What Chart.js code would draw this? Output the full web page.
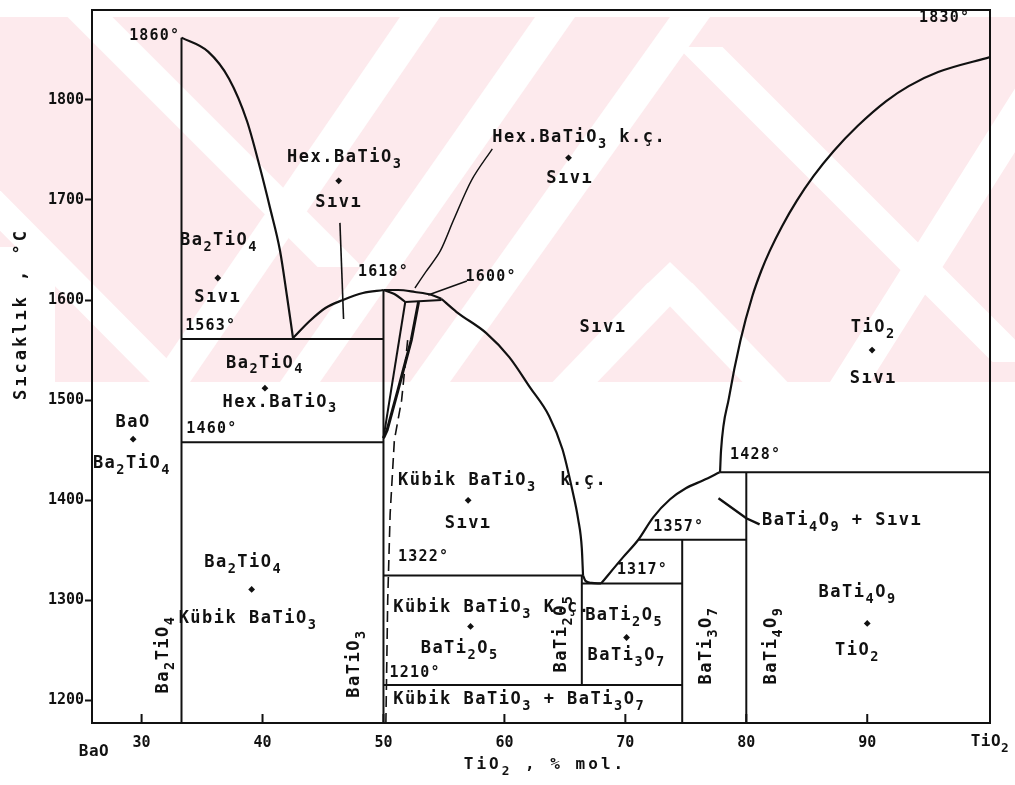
<!DOCTYPE html>
<html><head><meta charset="utf-8">
<script src="https://cdn.jsdelivr.net/npm/chart.js@4/dist/chart.umd.min.js"></script>
<style>html,body{margin:0;padding:0;background:#fff}#wrap{width:1015px;height:785px}</style>
</head><body><div id="wrap"><canvas id="c" width="1015" height="785"></canvas></div>
<script>
// ---------- DATA (mol % TiO2, temperature °C) ----------
const xTicks = [30, 40, 50, 60, 70, 80, 90];
const yTicks = [1200, 1300, 1400, 1500, 1600, 1700, 1800];

// liquidus curves
const liqBa2TiO4 = [[33.3,1862],[35.5,1848],[37.23,1821],[38.72,1778.5],[39.79,1732],[40.62,1692],[41.45,1649],[42.02,1604],[42.52,1562]];
const liqHexLeft = [[42.52,1562],[43.9,1579],[45.2,1592],[46.65,1600],[48.3,1607],[50,1610]];
const liqHexTop = [[50,1610],[51.2,1610],[52.6,1608],[54.0,1605],[54.8,1601]];
const liqHexLow = [[50,1610],[50.9,1606],[51.5,1601],[51.8,1598]];
const liqCubic = [[54.8,1601],[56.05,1588],[58.5,1567],[60.4,1543],[62.1,1513],[63.7,1484],[64.8,1451],[65.6,1411],[66.1,1381],[66.4,1352],[66.5,1325]];
const lensEut = [[66.5,1325],[66.7,1319.5],[67.2,1317.5],[68.0,1317]];
const liqBaTi4O9 = [[68.0,1317],[69.8,1343],[71.07,1360.6],[72.3,1383],[73.7,1401],[75.0,1412],[76.45,1420],[77.8,1428]];
const liqTiO2 = [[77.83,1428],[77.91,1449.6],[78.57,1502.5],[79.51,1559.3],[80.51,1604.2],[81.24,1629.2],[81.94,1649.1],[82.97,1674],[84.17,1699],[85.57,1723.9],[87.23,1748.8],[89.2,1773.7],[91.57,1798.6],[93.43,1813.6],[95.86,1827.6],[100.15,1842.5]];

// hexagonal / cubic BaTiO3 solid-solution boundaries
const hexSolidusA = [[51.8,1598],[50,1462]];
const hexSolidusB = [[52.9,1598],[52.3,1560],[51.2,1510],[50.3,1470],[50,1462]];
const cubicSolvus = [[52.0,1560],[51.5,1500],[50.9,1460],[50.55,1386],[50.35,1300],[50.2,1178]];

// compounds (vertical lines)
const lineBa2TiO4 = [[33.3,1177.6],[33.3,1862]];
const lineBaTiO3 = [[50,1177.6],[50,1610]];
const lineBaTi2O5 = [[66.4,1215.5],[66.4,1325]];
const lineBaTi3O7 = [[74.7,1177.6],[74.7,1360.6]];
const lineBaTi4O9 = [[80,1177.6],[80,1428]];

// invariant isotherms
const iso1563 = [[33.3,1561],[50,1561]];
const iso1460 = [[33.3,1458],[50,1458]];
const iso1600 = [[51.8,1598],[54.8,1600]];
const iso1322 = [[50,1325],[66.5,1325]];
const iso1317 = [[66.4,1317],[74.7,1317]];
const iso1357 = [[71.07,1360.6],[80,1360.6]];
const iso1210 = [[50,1215.5],[74.7,1215.5]];
const iso1428 = [[77.83,1428],[100.15,1428]];

// leader lines
const leadHexLiq = [[46.4,1677],[46.7,1581]];
const leadHexKc = [[59.0,1751],[57.3,1720],[55.8,1680],[54.7,1649],[53.5,1628],[52.6,1612]];
const lead1600 = [[56.9,1619],[53.7,1605]];
const leadBaTi4O9 = [[77.7,1402],[80,1382],[81.1,1376]];

// temperature labels
const tempLabels = [
  ['1860°',33.2,1864,'right'],['1830°',96.4,1882,'center'],['1618°',50.0,1628,'center'],
  ['1600°',58.9,1623,'center'],['1563°',33.6,1574,'left'],['1460°',33.7,1471,'left'],
  ['1322°',51.2,1343,'left'],['1210°',50.5,1227,'left'],['1317°',69.3,1330,'left'],
  ['1357°',72.3,1373,'left'],['1428°',78.65,1445,'left']
];
// phase-field labels
const phaseLabels = [
  ['Hex.BaTiO{3}',46.8,1742,'center'],['Sıvı',46.3,1697,'center'],
  ['Ba{2}TiO{4}',36.4,1659,'center'],['Sıvı',36.3,1602,'center'],
  ['Hex.BaTiO{3} k.ç.',59.0,1762,'left'],['Sıvı',65.4,1721,'center'],
  ['Sıvı',68.15,1572,'center'],
  ['TiO{2}',90.5,1572,'center'],['Sıvı',90.5,1522,'center'],
  ['Ba{2}TiO{4}',40.2,1537,'center'],['Hex.BaTiO{3}',41.45,1498,'center'],
  ['BaO',29.3,1478,'center'],['Ba{2}TiO{4}',29.2,1437,'center'],
  ['Kübik BaTiO{3}  k.ç.',51.2,1420,'left'],['Sıvı',57.0,1377,'center'],
  ['BaTi{4}O{9} + Sıvı',81.3,1380,'left'],
  ['Ba{2}TiO{4}',38.4,1338,'center'],['Kübik BaTiO{3}',38.8,1282,'center'],
  ['Kübik BaTiO{3} K.ç.',50.8,1293,'left'],['BaTi{2}O{5}',56.3,1252,'center'],
  ['BaTi{2}O{5}',69.9,1285,'center'],['BaTi{3}O{7}',70.1,1245,'center'],
  ['Kübik BaTiO{3} + BaTi{3}O{7}',50.8,1200.5,'left'],
  ['BaTi{4}O{9}',89.2,1308,'center'],['TiO{2}',89.2,1250,'center']
];
const compoundLabels = [
  ['Ba{2}TiO{4}',31.8,1246],['BaTiO{3}',47.65,1237],['BaTi{2}O{5}',64.76,1267],
  ['BaTi{3}O{7}',76.75,1255],['BaTi{4}O{9}',82.1,1255]
];
const plusMarks = [[46.3,1719],[36.3,1622],[65.3,1742],[90.4,1550],[40.2,1512],[29.3,1461],
  [57.0,1400],[39.1,1311],[57.2,1274],[70.1,1263],[90.0,1277]];

// ---------- RENDERING ----------
const FAM = '"DejaVu Sans Mono", "Liberation Mono", monospace';
const INK = '#111';
const toPts = a => a.map(([x,y]) => ({x, y}));
function seg(data, o) {
  return Object.assign({data: toPts(data), showLine: true, borderColor: INK, borderWidth: 2,
    pointRadius: 0, pointHoverRadius: 0, tension: 0, fill: false}, o || {});
}
const curve = {cubicInterpolationMode: 'monotone', borderWidth: 2.2};
const datasets = [
  seg(liqBa2TiO4, curve), seg(liqHexLeft, curve), seg(liqHexTop, curve), seg(liqHexLow, curve),
  seg(liqCubic, curve), seg(lensEut, curve), seg(liqBaTi4O9, curve), seg(liqTiO2, curve),
  seg(hexSolidusA, {borderWidth: 2}), seg(hexSolidusB, {borderWidth: 3}),
  seg(cubicSolvus, {borderWidth: 1.6, borderDash: [11, 6]}),
  seg(lineBa2TiO4), seg(lineBaTiO3), seg(lineBaTi2O5), seg(lineBaTi3O7), seg(lineBaTi4O9),
  seg(iso1563), seg(iso1460), seg(iso1600), seg(iso1322), seg(iso1317), seg(iso1357), seg(iso1210), seg(iso1428),
  seg(leadHexLiq, {borderWidth: 1.6}), seg(leadHexKc, {borderWidth: 1.4, tension: 0.3}),
  seg(lead1600, {borderWidth: 1.6}), seg(leadBaTi4O9, {borderWidth: 2.4}),
  {data: toPts(plusMarks), showLine: false, pointStyle: 'rectRot', pointRadius: 3.4,
   backgroundColor: INK, borderColor: INK, borderWidth: 0}
];

function parseRich(s) {
  const parts = []; const re = /\{([^}]*)\}/g; let last = 0, m;
  while ((m = re.exec(s))) {
    if (m.index > last) parts.push({t: s.slice(last, m.index), sub: false});
    parts.push({t: m[1], sub: true}); last = re.lastIndex;
  }
  if (last < s.length) parts.push({t: s.slice(last), sub: false});
  return parts;
}
function fnt(sz) { return 'bold ' + sz + 'px ' + FAM; }
function drawRich(ctx, s, x, y, align, size, spacing) {
  const parts = parseRich(s);
  ctx.letterSpacing = (spacing || 0) + 'px';
  let w = 0;
  for (const p of parts) { ctx.font = fnt(p.sub ? size * 0.8 : size); w += ctx.measureText(p.t).width; }
  let cx = align === 'center' ? x - w / 2 : align === 'right' ? x - w : x;
  ctx.textBaseline = 'middle'; ctx.textAlign = 'left';
  for (const p of parts) {
    const fs = p.sub ? size * 0.8 : size;
    ctx.font = fnt(fs);
    ctx.fillText(p.t, cx, y + (p.sub ? size * 0.4 : 0));
    cx += ctx.measureText(p.t).width;
  }
  ctx.letterSpacing = '0px';
}

// faint pink watermark of the scanned page (decoration, not data)
const watermark = {
  id: 'watermark',
  beforeDraw(chart) {
    const ctx = chart.ctx;
    const top = 17, bot = 382, H = bot - top;
    ctx.save();
    ctx.beginPath(); ctx.rect(0, top, chart.width, H); ctx.clip();
    ctx.fillStyle = '#fdeaed';
    ctx.fillRect(55, top, chart.width - 55, H);
    ctx.fillRect(0, top, 55, 230);
    ctx.fillStyle = '#ffffff';
    const band = (x1, y1, x2, y2, w) => {
      ctx.beginPath();
      ctx.moveTo(x1 - w / 2, y1); ctx.lineTo(x1 + w / 2, y1);
      ctx.lineTo(x2 + w / 2, y2); ctx.lineTo(x2 - w / 2, y2); ctx.closePath(); ctx.fill();
    };
    band(90, top, 340, top + 250, 45);
    band(-60, 150, 170, bot, 40);
    band(170, bot, 420, top, 40);
    band(300, bot, 555, top, 40);
    band(430, bot, 690, top, 40);
    band(850, bot, 1080, top, 40);
    band(670, 283, 575, bot, 45);
    band(670, 283, 765, bot, 45);
    ctx.beginPath(); ctx.moveTo(648, 283); ctx.lineTo(692, 283); ctx.lineTo(670, 262); ctx.closePath(); ctx.fill();
    band(700, top + 30, 1015, bot - 20, 45);
    ctx.restore();
  }
};

const deco = {
  id: 'deco',
  afterDatasetsDraw(chart) {
    const {ctx, chartArea: a, scales: {x, y}} = chart;
    ctx.save();
    ctx.fillStyle = INK; ctx.strokeStyle = INK;
    ctx.lineWidth = 2;
    ctx.strokeRect(a.left, a.top, a.right - a.left, a.bottom - a.top);
    for (const v of xTicks) {
      const px = x.getPixelForValue(v);
      ctx.beginPath(); ctx.moveTo(px, a.bottom); ctx.lineTo(px, a.bottom - 9); ctx.stroke();
    }
    for (const [t, vx, vy, al] of tempLabels) drawRich(ctx, t, x.getPixelForValue(vx), y.getPixelForValue(vy), al, 15, 1.2);
    for (const [t, vx, vy, al] of phaseLabels) drawRich(ctx, t, x.getPixelForValue(vx), y.getPixelForValue(vy), al, 17, 1.5);
    for (const [t, vx, vy] of compoundLabels) {
      ctx.save();
      ctx.translate(x.getPixelForValue(vx), y.getPixelForValue(vy));
      ctx.rotate(-Math.PI / 2);
      drawRich(ctx, t, 0, 0, 'center', 17, 1.5);
      ctx.restore();
    }
    drawRich(ctx, 'BaO', a.left + 2, a.bottom + 29, 'center', 16, 0.5);
    drawRich(ctx, 'TiO{2}', a.right, a.bottom + 19, 'center', 16, 0.5);
    drawRich(ctx, 'TiO{2} , % mol.', (a.left + a.right) / 2 + 4, a.bottom + 42, 'center', 16, 3);
    ctx.save();
    ctx.translate(22, 314);
    ctx.rotate(-Math.PI / 2);
    drawRich(ctx, 'Sıcaklık , °C', 0, 0, 'center', 17, 3);
    ctx.restore();
    ctx.restore();
  }
};

new Chart(document.getElementById('c'), {
  type: 'scatter',
  data: {datasets},
  options: {
    responsive: false, animation: false, events: [],
    layout: {padding: {left: 0, right: 25, top: 8, bottom: 0}},
    plugins: {legend: {display: false}, tooltip: {enabled: false}, title: {display: false}},
    scales: {
      x: {
        type: 'linear', min: 25.9, max: 100.15,
        afterBuildTicks: s => { s.ticks = xTicks.map(v => ({value: v})); },
        afterFit: s => { s.height = 62; },
        border: {display: false},
        grid: {display: false, drawTicks: false},
        ticks: {padding: 11, color: INK, font: {family: FAM, size: 15, weight: 'bold'}, callback: v => String(v)}
      },
      y: {
        type: 'linear', min: 1177.6, max: 1889.6,
        afterBuildTicks: s => { s.ticks = yTicks.map(v => ({value: v})); },
        afterFit: s => { s.width = 92; },
        border: {display: false},
        grid: {display: true, drawOnChartArea: false, drawTicks: true, tickLength: 7, tickWidth: 2, tickColor: INK},
        ticks: {padding: 1, color: INK, font: {family: FAM, size: 15, weight: 'bold'}, callback: v => String(v)}
      }
    }
  },
  plugins: [watermark, deco]
});
</script>
</body></html>
